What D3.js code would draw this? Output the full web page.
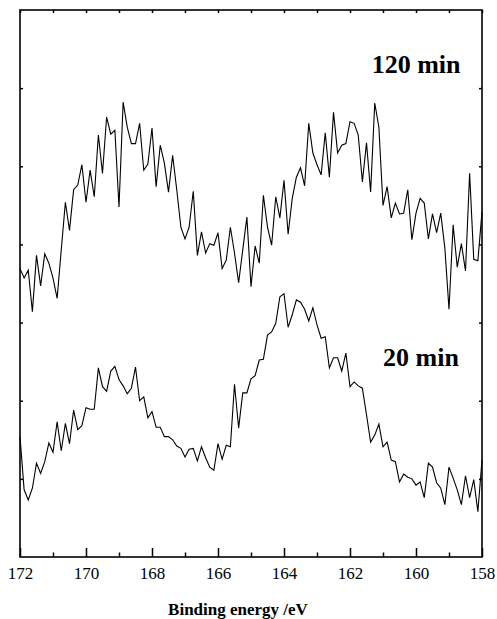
<!DOCTYPE html>
<html>
<head>
<meta charset="utf-8">
<script src="https://cdn.jsdelivr.net/npm/d3@7"></script>
<style>
  html, body { margin: 0; padding: 0; background: #fff; }
  svg { display: block; }
  text { font-family: "Times New Roman", "Liberation Serif", serif; fill: #000; }
</style>
</head>
<body>
<div id="chart"></div>
<script>
// measurement grid: 172 -> 158 eV, 0.125 eV step (113 points)
var energyStart = 172, energyEnd = 158, energyStep = 0.125;

// intensities (arb. units, 7 div. full scale)
var series120 = [
  3.69, 3.57, 3.67, 3.14, 3.86, 3.47, 3.88, 3.76, 3.57, 3.31,
  3.93, 4.54, 4.18, 4.70, 4.76, 5.02, 4.54, 4.95, 4.61, 5.40,
  4.91, 5.63, 5.41, 5.46, 4.48, 5.82, 5.50, 5.29, 5.29, 5.55,
  4.95, 5.03, 5.49, 4.74, 5.27, 5.04, 4.67, 5.14, 4.70, 4.22,
  4.07, 4.22, 4.68, 3.86, 4.16, 3.89, 4.01, 3.99, 4.15, 3.69,
  3.80, 4.22, 3.89, 3.51, 3.93, 4.35, 3.46, 3.98, 3.76, 4.63,
  4.22, 3.99, 4.61, 4.34, 4.82, 4.13, 4.59, 4.86, 4.98, 4.75,
  5.55, 5.17, 5.02, 4.89, 5.43, 4.86, 5.69, 5.17, 5.27, 5.29,
  5.57, 5.55, 5.40, 4.80, 5.30, 4.67, 5.81, 5.50, 4.50, 4.74,
  4.34, 4.53, 4.39, 4.40, 4.70, 4.06, 4.40, 4.59, 4.53, 4.07,
  4.39, 4.15, 4.40, 3.95, 3.17, 4.25, 3.71, 4.01, 3.66, 4.91,
  3.81, 3.79, 4.42
];
var series20 = [
  1.54, 0.86, 0.73, 0.88, 1.20, 1.07, 1.22, 1.46, 1.34, 1.73,
  1.36, 1.71, 1.45, 1.88, 1.63, 1.68, 1.91, 1.89, 1.89, 2.42,
  2.18, 2.12, 2.38, 2.44, 2.27, 2.19, 2.09, 2.16, 2.43, 2.00,
  2.05, 1.78, 1.86, 1.66, 1.66, 1.54, 1.54, 1.50, 1.42, 1.39,
  1.28, 1.38, 1.39, 1.23, 1.41, 1.27, 1.15, 1.11, 1.45, 1.25,
  1.43, 1.41, 2.21, 1.65, 2.10, 2.10, 2.28, 2.32, 2.52, 2.53,
  2.84, 2.88, 2.99, 3.33, 3.37, 2.94, 3.10, 3.29, 3.26, 3.17,
  3.02, 3.19, 2.97, 2.80, 2.82, 2.42, 2.55, 2.55, 2.38, 2.61,
  2.18, 2.24, 2.19, 2.16, 1.82, 1.47, 1.56, 1.70, 1.41, 1.47,
  1.24, 1.22, 0.96, 1.06, 1.02, 1.00, 0.92, 0.96, 0.76, 1.20,
  1.15, 0.95, 0.88, 0.67, 1.15, 1.01, 0.86, 0.67, 1.04, 0.76,
  0.99, 0.58, 1.24
];
var seriesLabels = ["120 min", "20 min"];
var majorTicks = [172, 170, 168, 166, 164, 162, 160, 158];
var minorTicks = [171, 169, 167, 165, 163, 161, 159];
var allTicks = d3.range(158, 173, 1);
var yTicks = [1, 2, 3, 4, 5, 6];
var xTitle = "Binding energy /eV";

var width = 497, height = 619;
var margin = {top: 10, right: 15, bottom: 62, left: 20};
var plotW = width - margin.left - margin.right;
var plotH = height - margin.top - margin.bottom;

var energy = series20.map(function (d, i) { return energyStart - i * energyStep; });

var x = d3.scaleLinear().domain([energyStart, energyEnd]).range([0, plotW]);
var y = d3.scaleLinear().domain([0, 7]).range([plotH, 0]);

var svg = d3.select("#chart").append("svg")
    .attr("width", width)
    .attr("height", height);

var g = svg.append("g")
    .attr("transform", "translate(" + margin.left + "," + margin.top + ")");

// axes (ticks pointing inward)
function styleAxis(sel) {
    sel.select(".domain").remove();
    sel.selectAll(".tick line").attr("stroke", "#000").attr("stroke-width", 1.5);
}

g.append("g")
    .attr("transform", "translate(0," + plotH + ")")
    .call(d3.axisBottom(x).tickValues(majorTicks).tickSizeInner(-9).tickSizeOuter(0)
        .tickPadding(10).tickFormat(d3.format("d")))
    .call(styleAxis)
    .selectAll("text")
    .style("font-size", "17px");

g.append("g")
    .attr("transform", "translate(0," + plotH + ")")
    .call(d3.axisBottom(x).tickValues(minorTicks).tickSizeInner(-4.5).tickSizeOuter(0).tickFormat(""))
    .call(styleAxis);

g.append("g")
    .call(d3.axisTop(x).tickValues(allTicks).tickSizeInner(-3).tickSizeOuter(0).tickFormat(""))
    .call(styleAxis);

g.append("g")
    .call(d3.axisLeft(y).tickValues(yTicks).tickSizeInner(-3).tickSizeOuter(0).tickFormat(""))
    .call(styleAxis);

g.append("g")
    .attr("transform", "translate(" + plotW + ",0)")
    .call(d3.axisRight(y).tickValues(yTicks).tickSizeInner(-3).tickSizeOuter(0).tickFormat(""))
    .call(styleAxis);

g.append("rect")
    .attr("x", 0)
    .attr("y", 0)
    .attr("width", plotW)
    .attr("height", plotH)
    .attr("fill", "none")
    .attr("stroke", "#000")
    .attr("stroke-width", 1.6);

// spectra
var line = d3.line()
    .x(function (d, i) { return x(energy[i]); })
    .y(function (d) { return y(d); });

g.selectAll(".spectrum")
    .data([series120, series20])
    .enter().append("path")
    .attr("class", "spectrum")
    .attr("d", line)
    .attr("fill", "none")
    .attr("stroke", "#000")
    .attr("stroke-width", 1.1)
    .attr("stroke-linejoin", "miter");

// labels
var labelPos = [{e: 158.65, v: 6.2}, {e: 158.7, v: 2.44}];
g.selectAll(".series-label")
    .data(seriesLabels)
    .enter().append("text")
    .attr("class", "series-label")
    .attr("x", function (d, i) { return x(labelPos[i].e); })
    .attr("y", function (d, i) { return y(labelPos[i].v); })
    .attr("text-anchor", "end")
    .style("font-size", "26px")
    .style("font-weight", "bold")
    .text(function (d) { return d; });

svg.append("text")
    .attr("x", 238)
    .attr("y", 615)
    .attr("text-anchor", "middle")
    .style("font-size", "17px")
    .style("font-weight", "bold")
    .text(xTitle);
</script>
</body>
</html>
